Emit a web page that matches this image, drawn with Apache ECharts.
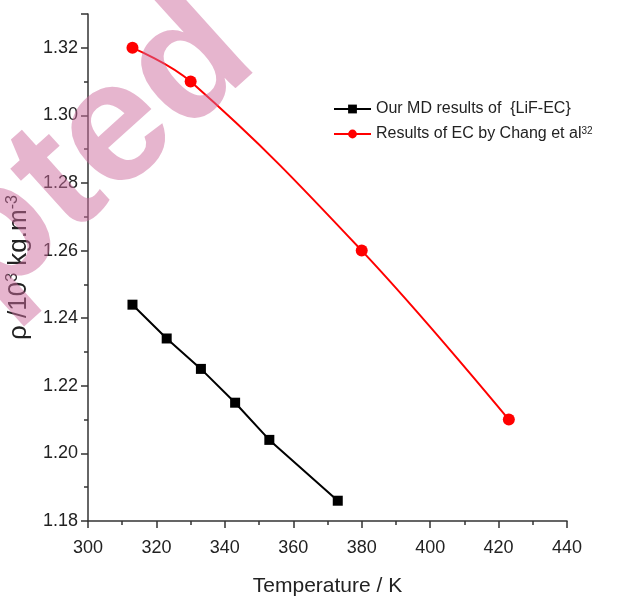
<!DOCTYPE html>
<html>
<head>
<meta charset="utf-8">
<script src="https://cdn.jsdelivr.net/npm/echarts@6/dist/echarts.min.js"></script>
<style>html,body{margin:0;padding:0;background:#fff}#c{width:633px;height:599px}</style>
</head>
<body>
<div id="c"></div>
<script>
// ---- data ----
var mdTemps = [313, 323, 333, 343, 353, 373];
var mdDensity = [1.244, 1.234, 1.225, 1.215, 1.204, 1.186];
var changTemps = [313, 330, 380, 423];
var changDensity = [1.32, 1.31, 1.26, 1.21];
var seriesNames = ['Our MD results of  {LiF-EC}', 'Results of EC by Chang et al'];
var xTicks = [300, 320, 340, 360, 380, 400, 420, 440];
var yTicks = [1.18, 1.20, 1.22, 1.24, 1.26, 1.28, 1.30, 1.32];

function pairs(xs, ys) { return xs.map(function (x, i) { return [x, ys[i]]; }); }

var chart = echarts.init(document.getElementById('c'), null, {renderer: 'canvas'});
var FONT = '"Liberation Sans", Arial, sans-serif';
var axisColor = '#333';

chart.setOption({
  animation: false,
  backgroundColor: '#fff',
  grid: {left: 88, right: 66, top: 14, bottom: 78, containLabel: false, outerBoundsMode: 'none'},
  xAxis: {
    type: 'value', min: xTicks[0], max: xTicks[xTicks.length - 1], interval: 20,
    name: 'Temperature / K', nameLocation: 'middle', nameGap: 55,
    nameTextStyle: {fontFamily: FONT, fontSize: 21, color: '#222'},
    axisLine: {show: true, onZero: false, lineStyle: {color: axisColor, width: 1.5}},
    axisTick: {show: true, inside: false, length: 7, lineStyle: {color: axisColor, width: 1.5}},
    minorTick: {show: true, splitNumber: 2, length: 4, lineStyle: {color: axisColor, width: 1.5}},
    splitLine: {show: false},
    axisLabel: {fontFamily: FONT, fontSize: 18, color: '#222', margin: 18}
  },
  yAxis: {
    type: 'value', min: yTicks[0], max: 1.33, interval: 0.02,
    name: '{a|ρ /10}{s|3}{a| kg.m}{s|-3}', nameLocation: 'middle', nameGap: 46,
    nameTextStyle: {fontFamily: FONT, color: '#222',
      rich: {a: {fontFamily: FONT, fontSize: 26, color: '#222', lineHeight: 28},
             s: {fontFamily: FONT, fontSize: 16, color: '#222', verticalAlign: 'top', lineHeight: 28}}},
    axisLine: {show: true, onZero: false, lineStyle: {color: axisColor, width: 1.5}},
    axisTick: {show: true, inside: false, length: 7, lineStyle: {color: axisColor, width: 1.5}},
    minorTick: {show: true, splitNumber: 2, length: 4, lineStyle: {color: axisColor, width: 1.5}},
    splitLine: {show: false},
    axisLabel: {fontFamily: FONT, fontSize: 18, color: '#222', margin: 10,
      formatter: function (v) { return v > 1.325 ? '' : v.toFixed(2); }}
  },
  legend: {
    orient: 'vertical', left: 333, top: 101, padding: 0, itemWidth: 37, itemHeight: 11, itemGap: 9,
    textStyle: {fontFamily: FONT, fontSize: 16, color: '#222',
      rich: {s: {fontFamily: FONT, fontSize: 10, color: '#222', verticalAlign: 'top', lineHeight: 16}}},
    formatter: function (name) {
      return name === seriesNames[1] ? name + '{s|32}' : name;
    },
    data: seriesNames
  },
  series: [
    {
      name: seriesNames[0], type: 'line', data: pairs(mdTemps, mdDensity),
      symbol: 'rect', symbolSize: 10, itemStyle: {color: '#000'},
      lineStyle: {color: '#000', width: 2}
    },
    {
      name: seriesNames[1], type: 'line', data: pairs(changTemps, changDensity),
      smooth: 0.4, symbol: 'circle', symbolSize: 12, itemStyle: {color: '#ff0000'},
      lineStyle: {color: '#ff0000', width: 2}
    }
  ],
  graphic: [{
    type: 'text', x: -346, y: 548, rotation: 42 * Math.PI / 180, z: 100, silent: true,
    style: {text: 'Accepted', font: 'bold 172px "Liberation Sans", Arial, sans-serif',
      fill: 'rgb(206,108,157)', opacity: 0.5, textAlign: 'left', textVerticalAlign: 'middle'}
  }]
});
</script>
</body>
</html>
